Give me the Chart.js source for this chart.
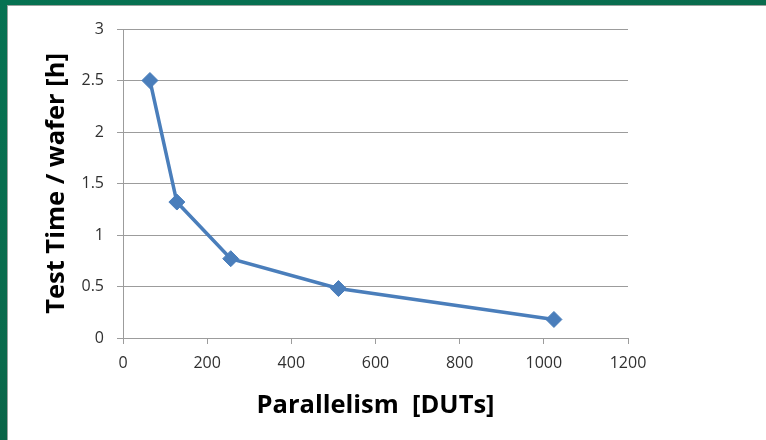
<!DOCTYPE html>
<html>
<head>
<meta charset="utf-8">
<script src="https://cdn.jsdelivr.net/npm/chart.js@4"></script>
<style>
  html, body { margin: 0; padding: 0; width: 766px; height: 440px; overflow: hidden; }
  body { background: linear-gradient(160deg, #067252 0%, #0a6a4c 50%, #064e36 100%); position: relative; }
  #panel { position: absolute; left: 7px; top: 5px; right: 0; bottom: 0; background: #ffffff;
           border-left: 1px solid #9aa39f; border-top: 1px solid #9aa39f; }
  #wrap { position: absolute; left: 0; top: 0; width: 766px; height: 440px; }
</style>
</head>
<body>
<div id="panel"></div>
<div id="wrap"><canvas id="c" width="766" height="440"></canvas></div>
<script>
// Data
const parallelism = [64, 128, 256, 512, 1024];          // DUTs
const testTimePerWafer = [2.5, 1.32, 0.77, 0.48, 0.18]; // hours

const xAxisTitle = 'Parallelism  [DUTs]';
const yAxisTitle = 'Test Time / wafer [h]';
const xRange = [0, 1200];
const yRange = [0, 3];
const xStep = 200;
const yStep = 0.5;

const points = parallelism.map((x, i) => ({ x: x, y: testTimePerWafer[i] }));

const gridColor = '#9c9c9c';
const tickFont = { family: 'Open Sans', size: 16 };
const titleFont = { family: 'Open Sans', size: 25.5, weight: 'bold' };
const plainLabel = (v) => String(v);

new Chart(document.getElementById('c'), {
  type: 'scatter',
  data: {
    datasets: [{
      data: points,
      showLine: true,
      borderColor: '#4a7ebb',
      backgroundColor: '#4a7ebb',
      borderWidth: 3.5,
      tension: 0,
      pointStyle: 'rectRot',
      pointRadius: 8,
      pointBorderWidth: 1,
      pointBackgroundColor: '#4a7ebb',
      pointBorderColor: '#4a7ebb'
    }]
  },
  options: {
    responsive: false,
    animation: false,
    devicePixelRatio: 1,
    layout: { padding: { top: 29, right: 138, left: 0, bottom: 0 } },
    plugins: { legend: { display: false }, tooltip: { enabled: false } },
    scales: {
      x: {
        type: 'linear',
        min: xRange[0], max: xRange[1],
        ticks: { stepSize: xStep, font: tickFont, color: '#303030', padding: 10, maxRotation: 0, callback: plainLabel },
        grid: { drawOnChartArea: false, color: gridColor, tickLength: 6, lineWidth: 1 },
        border: { display: true, color: gridColor, width: 1 },
        title: { display: true, text: xAxisTitle, font: titleFont, color: '#000', padding: { top: 0, bottom: 19 } },
        afterFit: (s) => { s.height = 102; }
      },
      y: {
        type: 'linear',
        min: yRange[0], max: yRange[1],
        ticks: { stepSize: yStep, font: tickFont, color: '#303030', padding: 13, callback: plainLabel },
        grid: { color: gridColor, tickLength: 6, lineWidth: 1 },
        border: { display: true, color: gridColor, width: 1 },
        title: { display: true, text: yAxisTitle, font: titleFont, color: '#000', padding: { top: 41, bottom: 0 } },
        afterFit: (s) => { s.width = 123; }
      }
    }
  }
});
</script>
</body>
</html>
